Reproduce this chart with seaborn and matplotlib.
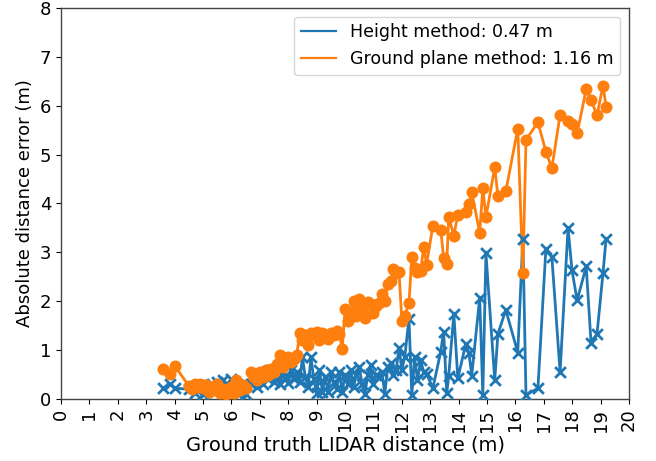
import numpy as np
import pandas as pd
import matplotlib
matplotlib.use("Agg")
import matplotlib.pyplot as plt
import seaborn as sns

# Ground-truth LIDAR distance of each detection (m)
gt_distance = [
    3.60, 3.85, 4.00, 4.50, 4.60, 4.70, 4.80, 4.90, 5.00, 5.10,
    5.20, 5.30, 5.40, 5.50, 5.60, 5.70, 5.80, 5.90, 6.00, 6.10,
    6.15, 6.20, 6.30, 6.40, 6.50, 6.70, 6.80, 6.90, 7.00, 7.10,
    7.20, 7.30, 7.40, 7.50, 7.60, 7.70, 7.80, 7.90, 8.00, 8.10,
    8.20, 8.30, 8.40, 8.50, 8.60, 8.70, 8.80, 8.90, 9.00, 9.10,
    9.20, 9.30, 9.40, 9.50, 9.60, 9.70, 9.80, 9.90, 10.00, 10.10,
    10.20, 10.30, 10.40, 10.50, 10.60, 10.70, 10.80, 10.90, 11.00, 11.10,
    11.20, 11.30, 11.40, 11.50, 11.60, 11.70, 11.80, 11.90, 12.00, 12.10,
    12.25, 12.35, 12.45, 12.55, 12.66, 12.77, 12.87, 13.09, 13.37, 13.47,
    13.58, 13.65, 13.83, 13.97, 14.25, 14.36, 14.46, 14.74, 14.85, 14.96,
    15.27, 15.38, 15.66, 16.08, 16.26, 16.37, 16.79, 17.07, 17.28, 17.57,
    17.85, 17.99, 18.17, 18.49, 18.66, 18.87, 19.08, 19.19,
]

# Absolute distance error of the height method (m)
height_error = [
    0.22, 0.30, 0.22, 0.20, 0.25, 0.12, 0.18, 0.28, 0.10, 0.15,
    0.22, 0.30, 0.25, 0.35, 0.20, 0.38, 0.30, 0.20, 0.40, 0.28,
    0.15, 0.30, 0.12, 0.25, 0.10, 0.30, 0.38, 0.25, 0.45, 0.30,
    0.55, 0.40, 0.60, 0.35, 0.48, 0.30, 0.55, 0.40, 0.32, 0.60,
    0.40, 0.55, 0.35, 0.85, 0.45, 0.25, 0.85, 0.40, 0.12, 0.60,
    0.15, 0.45, 0.15, 0.55, 0.35, 0.20, 0.55, 0.15, 0.50, 0.30,
    0.60, 0.25, 0.50, 0.65, 0.30, 0.10, 0.50, 0.70, 0.30, 0.50,
    0.45, 0.55, 0.10, 0.65, 0.73, 0.50, 0.60, 1.05, 0.60, 0.85,
    1.64, 0.08, 0.85, 0.38, 0.79, 0.55, 0.52, 0.22, 0.97, 1.38,
    0.12, 0.48, 1.74, 0.42, 1.13, 0.95, 0.48, 2.07, 0.08, 2.98,
    0.38, 1.33, 1.82, 0.95, 3.28, 0.08, 0.22, 3.07, 2.91, 0.55,
    3.50, 2.63, 2.02, 2.71, 1.15, 1.33, 2.57, 3.28,
]

# Absolute distance error of the ground plane method (m)
ground_plane_error = [
    0.62, 0.52, 0.68, 0.27, 0.20, 0.30, 0.25, 0.30, 0.22, 0.28,
    0.15, 0.25, 0.18, 0.30, 0.12, 0.20, 0.10, 0.15, 0.25, 0.12,
    0.38, 0.20, 0.18, 0.28, 0.22, 0.55, 0.45, 0.38, 0.55, 0.45,
    0.60, 0.50, 0.62, 0.55, 0.72, 0.90, 0.65, 0.80, 0.85, 0.75,
    0.82, 0.90, 1.35, 1.20, 1.30, 1.10, 1.35, 1.30, 1.38, 1.20,
    1.35, 1.28, 1.22, 1.35, 1.30, 1.40, 1.32, 1.03, 1.84, 1.60,
    1.75, 2.00, 1.70, 2.05, 1.85, 1.65, 1.98, 1.95, 1.75, 1.90,
    1.96, 2.14, 2.00, 2.35, 2.41, 2.65, 2.57, 2.60, 1.60, 1.70,
    1.96, 2.91, 2.67, 2.60, 2.61, 3.11, 2.75, 3.54, 3.46, 2.89,
    2.77, 3.72, 3.34, 3.77, 3.83, 3.99, 4.23, 3.40, 4.31, 3.72,
    4.74, 4.16, 4.25, 5.53, 2.57, 5.30, 5.66, 5.06, 4.72, 5.81,
    5.68, 5.62, 5.43, 6.34, 6.12, 5.80, 6.41, 5.98,
]

series_labels = ["Height method: 0.47 m", "Ground plane method: 1.16 m"]
x_ticks = list(range(0, 21))
y_ticks = list(range(0, 9))

df = pd.DataFrame({
    "distance": gt_distance,
    "height": height_error,
    "ground": ground_plane_error,
})

blue = "#1f77b4"
orange = "#ff7f0e"

fig, ax = plt.subplots(figsize=(6.56, 4.61), dpi=100)
fig.subplots_adjust(left=0.093, right=0.959, top=0.983, bottom=0.1345)

# Lines (these carry the legend entries)
sns.lineplot(data=df, x="distance", y="height", ax=ax, color=blue,
             linewidth=2, sort=False, estimator=None, label=series_labels[0])
sns.lineplot(data=df, x="distance", y="ground", ax=ax, color=orange,
             linewidth=2, sort=False, estimator=None, label=series_labels[1])

# Markers on top of each line
sns.scatterplot(data=df, x="distance", y="height", ax=ax, marker="x",
                color=blue, s=60, linewidth=2, zorder=3, legend=False)
sns.scatterplot(data=df, x="distance", y="ground", ax=ax, marker="o",
                color=orange, s=75, edgecolor=orange, linewidth=0,
                zorder=4, legend=False)

ax.set_xlim(0, 20)
ax.set_ylim(0, 8)
ax.set_xticks(x_ticks)
ax.set_xticklabels([str(t) for t in x_ticks], rotation=90)
ax.set_yticks(y_ticks)
ax.tick_params(labelsize=13)
for spine in ax.spines.values():
    spine.set_color("#444444")
    spine.set_linewidth(1.0)
ax.set_xlabel("Ground truth LIDAR distance (m)", fontsize=14, labelpad=3)
ax.set_ylabel("Absolute distance error (m)", fontsize=13)
leg = ax.legend(loc="upper right", fontsize=12.5)
for line in leg.get_lines():
    line.set_linewidth(1.6)

fig.savefig("out.png", dpi=100)
